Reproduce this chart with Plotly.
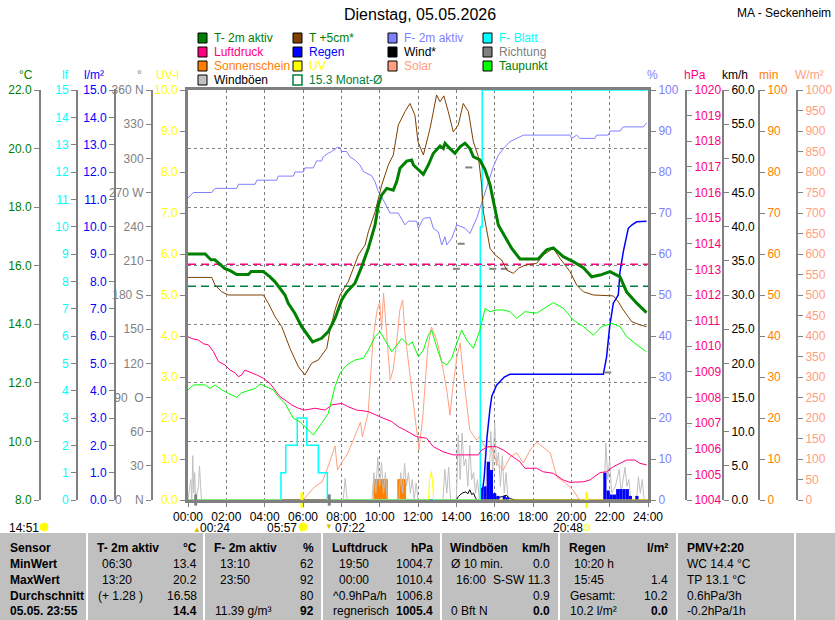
import plotly.graph_objects as go

W, H = 835, 620
FONT = "Arial, Liberation Sans, sans-serif"
GRAY = "#808080"

# colours of the series
C_T2M = "#008000"
C_T5 = "#804000"
C_F2M = "#8080ff"
C_FB = "#00ffff"
C_P = "#ff0080"
C_RAIN = "#0000ff"
C_WIND = "#000000"
C_DIR = "#808080"
C_SUN = "#ff8000"
C_UV = "#ffff00"
C_SOL = "#ffa080"
C_TAU = "#00ff00"
C_GUST = "#c0c0c0"
C_MON = "#008040"

# ---- data (hours of the day -> value) ----
t2m_time = [0, 0.9, 1.05, 1.2, 1.4, 1.67, 1.93, 2.2, 2.54, 3.15, 3.3, 3.93, 4.28, 4.54, 4.8,
            5.06, 5.23, 5.58, 5.93, 6.28, 6.5, 6.97, 7.32, 7.67, 8.02, 8.28, 8.71, 9.06, 9.41,
            9.76, 9.93, 10.1, 10.37, 10.71, 10.89, 11.06, 11.41, 11.67, 11.76, 12.28, 12.54,
            12.8, 13.15, 13.32, 13.41, 13.67, 13.93, 14.19, 14.45, 14.71, 14.89, 15.23, 15.5,
            15.76, 16.02, 16.19, 16.54, 16.89, 17.32, 18.27, 18.71, 19.06, 19.58, 20.1, 20.63,
            21.06, 21.5, 22.02, 22.54, 22.89, 23.41, 23.92]
t2m_val = [16.4, 16.4, 16.3, 16.2, 16.2, 16.06, 15.9, 15.83, 15.7, 15.7, 15.8, 15.8, 15.62,
           15.45, 15.23, 15.0, 14.72, 14.37, 13.92, 13.58, 13.4, 13.52, 13.75, 14.2, 14.83,
           15.1, 15.4, 15.97, 16.6, 17.39, 18.07, 18.41, 18.64, 18.58, 18.87, 19.33, 19.57,
           19.61, 19.44, 19.12, 19.44, 19.84, 20.09, 20.0, 20.18, 20.0, 19.84, 20.06, 20.18,
           20.0, 19.72, 19.61, 19.27, 18.76, 17.96, 17.39, 16.99, 16.59, 16.23, 16.23, 16.54,
           16.61, 16.31, 16.14, 15.93, 15.62, 15.68, 15.8, 15.62, 15.1, 14.72, 14.4]

t5_time = [0, 1.24, 1.41, 1.76, 2.1, 3.93, 4.19, 4.54, 4.89, 5.32, 5.76, 6.1, 6.45, 6.8, 7.24,
           7.41, 7.67, 7.93, 8.36, 8.89, 9.24, 9.41, 9.76, 10.11, 10.45, 10.71, 10.97, 11.32,
           11.58, 11.84, 12.0, 12.28, 12.63, 12.97, 13.15, 13.35, 13.58, 13.84, 14.1, 14.36,
           14.63, 14.89, 15.15, 15.32, 15.41, 15.58, 15.76, 16.02, 16.37, 16.63, 16.97, 17.24,
           17.58, 18.19, 18.54, 19.06, 19.41, 19.93, 20.28, 20.63, 21.15, 22.19, 22.45, 22.71,
           23.15, 23.58, 23.93]
t5_val = [15.6, 15.6, 15.34, 15.11, 15.0, 15.0, 14.72, 14.26, 13.92, 13.18, 12.55, 12.27,
          12.67, 12.78, 13.18, 13.8, 14.49, 15.0, 15.45, 16.37, 16.71, 17.16, 17.84, 18.76,
          19.44, 19.78, 20.8, 21.26, 21.54, 21.14, 20.23, 19.78, 20.69, 21.83, 21.6, 21.8,
          21.26, 20.57, 20.8, 21.54, 21.26, 20.23, 19.72, 18.76, 17.84, 17.28, 16.59, 16.37,
          16.19, 15.85, 15.74, 15.91, 16.02, 16.08, 16.37, 16.59, 16.25, 15.8, 15.34, 15.11,
          15.0, 14.97, 14.77, 14.49, 14.09, 13.98, 13.92]

f2m_time = [0, 0.28, 1.24, 1.41, 2.54, 2.63, 3.5, 3.59, 4.63, 4.71, 5.5, 5.58, 6.02, 6.1,
            6.54, 6.71, 6.97, 7.06, 7.32, 7.5, 7.79, 7.93, 8.02, 8.28, 8.45, 8.71, 8.97, 9.15,
            9.58, 9.76, 9.93, 10.19, 10.54, 10.97, 11.32, 11.5, 11.93, 12.02, 12.28, 12.63,
            12.8, 13.06, 13.24, 13.41, 13.5, 13.76, 14.02, 14.28, 14.45, 14.71, 15.06, 15.32,
            15.58, 15.93, 16.19, 16.54, 16.8, 17.15, 17.5, 19.93, 20.02, 20.28, 20.45, 21.23,
            21.32, 21.93, 22.02, 22.54, 22.71, 23.76, 23.92]
f2m_val = [73.7, 75, 75, 76, 76, 77, 77, 78, 78, 79, 79, 80, 80, 81, 81, 82.7, 82.7, 83.7,
           84.6, 85, 86, 86, 85, 85, 83.7, 82.9, 81.7, 80.1, 79.1, 77.6, 75.2, 73.2, 70, 70,
           67.1, 68, 68, 66.3, 68.7, 68.9, 66.3, 65.4, 62.2, 64.2, 62.2, 63.8, 67.1, 66.7,
           66.3, 65, 68.7, 72.4, 76, 81.3, 84.1, 86.2, 87.4, 88.2, 89, 89, 88.2, 89, 88.2,
           88.2, 89, 89, 90, 90, 91, 91, 92]

fb_time = [0, 4.85, 5.1, 5.7, 6.2, 6.8, 7.27, 15.25, 15.35, 24]
fb_val = [0, 1, 2, 3, 2, 1, 0, 10, 15, 15]

p_time = [0, 0.2, 0.55, 0.8, 1.07, 1.33, 1.59, 1.93, 2.19, 2.45, 2.63, 2.8, 2.97, 3.24, 3.59,
          3.93, 4.28, 4.54, 4.8, 5.06, 5.41, 5.76, 6.1, 6.63, 7.15, 7.5, 8.02, 8.36, 8.8,
          9.41, 9.76, 10.19, 10.63, 10.97, 11.32, 11.6, 11.93, 12.45, 12.8, 13.32, 13.84,
          15.15, 15.32, 15.67, 16.1, 16.45, 16.97, 17.32, 17.58, 18.19, 18.54, 19.06, 19.58,
          19.93, 20.63, 20.97, 21.5, 21.84, 22.19, 22.54, 22.89, 23.32, 23.58, 23.93]
p_val = [1010.37, 1010.3, 1010.24, 1010.1, 1010.05, 1009.79, 1009.4, 1009.27, 1009.07,
         1008.97, 1008.81, 1008.88, 1009.07, 1009.0, 1008.88, 1008.75, 1008.55, 1008.29,
         1008.03, 1007.9, 1007.71, 1007.58, 1007.51, 1007.58, 1007.51, 1007.71, 1007.77,
         1007.64, 1007.51, 1007.45, 1007.32, 1007.19, 1007.06, 1006.86, 1006.73, 1006.6,
         1006.47, 1006.41, 1006.08, 1005.88, 1005.76, 1005.76, 1005.95, 1006.08, 1006.08,
         1005.95, 1005.69, 1005.49, 1005.24, 1005.24, 1005.1, 1005.04, 1004.78, 1004.69,
         1004.71, 1004.78, 1005.07, 1005.1, 1005.3, 1005.43, 1005.56, 1005.56, 1005.43,
         1005.37]

tau_time = [0, 0.28, 0.89, 1.15, 1.41, 1.76, 2.1, 2.54, 2.8, 3.5, 3.76, 4.1, 4.45, 4.71,
            5.06, 5.5, 5.84, 6.28, 6.54, 6.97, 7.32, 7.67, 7.93, 8.28, 8.71, 9.15, 9.41,
            9.76, 10.02, 10.28, 10.63, 10.97, 11.15, 11.5, 11.7, 12.02, 12.28, 12.54, 12.71,
            12.97, 13.24, 13.5, 13.76, 14.02, 14.28, 14.54, 14.89, 15.23, 15.5, 15.76, 16.1,
            16.45, 16.8, 17.15, 17.58, 18.19, 18.71, 19.06, 19.58, 20.1, 20.63, 21.15, 21.58,
            22.11, 22.54, 22.89, 23.32, 23.92]
tau_val = [11.76, 11.93, 11.93, 11.81, 11.93, 11.76, 11.64, 11.51, 11.66, 11.81, 11.96,
           11.87, 11.76, 11.53, 11.3, 10.79, 10.67, 10.39, 10.22, 10.62, 10.96, 11.87, 12.33,
           12.61, 12.78, 12.84, 13.12, 13.58, 13.75, 13.46, 13.06, 13.35, 13.52, 13.29, 13.4,
           12.89, 13.12, 13.63, 13.8, 13.23, 12.72, 12.61, 12.84, 13.35, 13.8, 13.46, 13.18,
           13.8, 14.54, 14.43, 14.49, 14.49, 14.43, 14.2, 14.43, 14.38, 14.6, 14.74, 14.55,
           14.15, 13.92, 13.63, 13.92, 14.03, 13.92, 13.58, 13.35, 13.06]

sol_time = [0, 6.0, 6.6, 7.0, 7.3, 7.67, 7.8, 8.0, 8.35, 8.8, 9.0, 9.1, 9.4, 9.65, 9.85,
            10.0, 10.1, 10.2, 10.4, 10.55, 10.7, 10.9, 11.05, 11.2, 11.3, 11.6, 11.95, 12.05,
            12.25, 12.5, 12.7, 12.98, 13.25, 13.5, 13.67, 13.8, 14.03, 14.2, 14.35, 14.7,
            15.05, 15.2, 15.5, 15.85, 16.1, 16.45, 16.8, 17.15, 17.5, 17.85, 18.2, 18.5, 18.9,
            19.25, 19.7, 20.1, 20.35, 20.5, 24]
sol_val = [0, 0, 32, 44, 80, 132, 73, 90, 115, 170, 190, 154, 212, 390, 459, 483, 415, 505,
           390, 293, 317, 390, 463, 488, 415, 298, 154, 122, 202, 366, 422, 390, 334, 268,
           207, 268, 349, 383, 310, 171, 146, 154, 129, 129, 90, 73, 105, 115, 90, 122, 141,
           129, 115, 56, 41, 24, 5, 0, 0]

rain_sum_time = [0, 15.3, 15.45, 15.6, 15.75, 15.85, 16.1, 16.5, 16.8, 21.67, 21.84, 22.0,
                 22.19, 22.45, 22.54, 22.71, 22.97, 23.15, 23.41, 23.92]
rain_sum_val = [0, 0, 0.8, 2.3, 3.3, 3.8, 4.2, 4.5, 4.6, 4.6, 5.24, 6.34, 7.2, 7.5, 8.35,
                9.08, 9.94, 10.06, 10.18, 10.2]

rain_bar_time = [15.33, 15.5, 15.67, 15.83, 16.0, 16.17, 16.5, 16.67, 21.75, 21.92, 22.08,
                 22.25, 22.42, 22.58, 22.75, 22.92, 23.08, 23.42]
rain_bar_val = [0.45, 0.5, 1.4, 1.1, 0.25, 0.15, 0.15, 0.1, 1.0, 0.35, 0.2, 0.2, 0.4, 0.4,
                0.4, 0.4, 0.15, 0.15]

gust_time = [0, 0.15, 0.2, 0.25, 0.3, 0.35, 0.4, 0.55, 0.6, 0.65, 0.7, 8.1, 8.2, 8.3, 9.6,
             9.7, 9.8, 9.9, 10.0, 10.1, 10.2, 10.3, 10.4, 11.0, 11.1, 11.2, 11.3, 11.4, 11.5,
             11.6, 11.7, 11.8, 11.9, 12.0, 13.3, 13.4, 13.5, 13.6, 13.7, 14.0, 14.1, 14.2,
             14.3, 14.4, 14.5, 14.6, 14.7, 14.8, 14.9, 15.0, 15.1, 15.2, 15.5, 15.6, 15.7,
             15.8, 15.9, 16.0, 16.1, 16.2, 16.3, 16.4, 16.5, 16.6, 16.7, 21.7, 21.8, 21.9,
             22.0, 22.1, 22.3, 22.5, 22.6, 22.8, 22.9, 23.0, 23.1, 23.4, 23.5, 23.6, 23.7,
             23.8, 24]
gust_val = [0, 3, 0, 6.5, 1, 4, 0, 2, 5, 1, 0, 0, 3.2, 0, 0, 4, 1, 6.3, 2, 5.5, 1, 4, 0, 0,
            4, 1, 5.4, 2, 4, 1, 3, 0, 2.5, 0, 0, 4.5, 1, 4.8, 0, 0, 9.5, 3, 9.8, 5, 6, 2, 8,
            3, 4, 1, 3, 0, 0, 5, 2, 10, 4, 11.3, 5, 7, 2, 6.5, 1, 4, 0, 0, 8.3, 3, 6, 1, 2,
            4.5, 1, 4.8, 2, 3, 0, 0, 3.4, 1, 3, 0, 0]

wind_time = [0, 14.0, 14.1, 14.3, 14.5, 14.6, 14.7, 14.8, 14.9, 15.0, 15.1, 15.8, 15.9,
             16.1, 16.4, 16.6, 16.8, 17.1, 24]
wind_val = [0, 0, 0.5, 1.0, 1.2, 0.9, 1.5, 0.8, 1.0, 0.3, 0, 0, 0.7, 0.3, 0.5, 0.7, 0.2, 0, 0]

dir_time = [14.0, 14.25, 14.65, 15.9, 16.5, 21.9]
dir_val = [203, 225, 292, 203, 203, 112]

sun_time = [0, 9.7, 10.4, 10.95, 11.35, 24]
sun_min = [0, 5, 0, 5, 0, 0]

uv_time = [0, 12.55, 12.6, 12.7, 12.76, 12.82, 24]
uv_val = [0, 0, 0.5, 0.7, 0.4, 0, 0]

sunrise_sunset = [5.95, 20.8]
moon_events = [0.4, 7.37]

month_temp = 15.3
month_press = 1013.2

# ---- ticks ----
hour_ticks = list(range(0, 25, 2))
hour_labels = [f"{h:02d}:00" for h in hour_ticks]
temp_ticks = list(range(8, 23, 2))
lf_ticks = list(range(0, 16))
mm_ticks = list(range(0, 16))
dir_ticks = list(range(0, 361, 30))
dir_labels = ["0\u00a0\u00a0\u00a0\u00a0N", "30", "60", "90\u00a0\u00a0O", "120", "150",
              "180 S", "210", "240", "270 W", "300", "330", "360 N"]
uv_ticks = list(range(0, 11))
hum_ticks = list(range(0, 101, 10))
press_ticks = list(range(1004, 1021))
kmh_ticks = list(range(0, 61, 5))
min_ticks = list(range(0, 101, 10))
sol_ticks = list(range(0, 1001, 50))

# ---- table below the chart ----
tbl_rows_y = [548, 564, 580, 596, 611]
tbl_first = ["Sensor", "MinWert", "MaxWert", "Durchschnitt", "05.05. 23:55"]
tbl_cols = [
    # header x, body x, right x, header, unit, left texts, right texts
    (95, 100, 199, "T- 2m aktiv", "°C", ["06:30", "13:20", "(+ 1.28 )", ""],
     ["13.4", "20.2", "16.58", "14.4"]),
    (212, 218, 316, "F- 2m aktiv", "%", ["13:10", "23:50", "", "11.39 g/m³"],
     ["62", "92", "80", "92"]),
    (330, 337, 435, "Luftdruck", "hPa", ["19:50", "00:00", "^0.9hPa/h", "regnerisch"],
     ["1004.7", "1010.4", "1006.8", "1005.4"]),
    (448, 454, 552, "Windböen", "km/h", ["Ø 10 min.", "16:00", "", "0 Bft N"],
     ["0.0", "S-SW 11.3", "0.9", "0.0"]),
    (567, 572, 670, "Regen", "l/m²", ["10:20 h", "15:45", "Gesamt:", "10.2 l/m²"],
     ["", "1.4", "10.2", "0.0"]),
]
tbl_pmv = ["PMV+2:20", "WC 14.4 °C", "TP 13.1 °C", "0.6hPa/3h", "-0.2hPa/1h"]
tbl_seps = [87, 204, 322, 441, 559, 677, 795]

legend_items = [
    ("T- 2m aktiv", C_T2M, C_T2M), ("T +5cm*", C_T5, C_T2M),
    ("F- 2m aktiv", C_F2M, C_F2M), ("F- Blatt", C_FB, C_FB),
    ("Luftdruck", C_P, C_P), ("Regen", C_RAIN, C_RAIN),
    ("Wind*", C_WIND, C_WIND), ("Richtung", C_DIR, C_DIR),
    ("Sonnenschein", C_SUN, C_SUN), ("UV", C_UV, C_UV),
    ("Solar", C_SOL, C_SOL), ("Taupunkt", C_TAU, C_T2M),
    ("Windböen", C_GUST, "#000000"), ("15.3 Monat-Ø", None, C_MON),
]


def px(x):
    return x / W


def py(y):
    return 1 - y / H


def yax(color, rng, ticks, position=None, side="left", labels=None, fmt=None,
        main=False, frame=False):
    ax = dict(range=rng, tickmode="array", tickvals=ticks, ticks="outside", ticklen=5,
              tickwidth=1, tickcolor=GRAY, showline=True, linecolor=GRAY,
              linewidth=3 if frame else 2, showgrid=False, zeroline=False, side=side,
              fixedrange=True, automargin=False,
              tickfont=dict(family=FONT, size=12, color=color))
    if labels is not None:
        ax["ticktext"] = labels
    if fmt:
        ax["tickformat"] = fmt
    if position is None:
        ax["anchor"] = "x"
    else:
        ax["anchor"] = "free"
        ax["position"] = position
    if main:
        ax["domain"] = [py(500), py(90)]
    else:
        ax["overlaying"] = "y"
    return ax


fig = go.Figure()

# sunshine minutes (main y)
fig.add_trace(go.Scatter(x=sun_time, y=sun_min, mode="lines", line_shape="hv",
                         line=dict(color=C_SUN, width=1), fill="tozeroy", fillcolor=C_SUN,
                         yaxis="y"))
# gusts and wind
fig.add_trace(go.Scatter(x=gust_time, y=gust_val, mode="lines",
                         line=dict(color=C_GUST, width=1), yaxis="y2"))
fig.add_trace(go.Scatter(x=wind_time, y=wind_val, mode="lines",
                         line=dict(color=C_WIND, width=1), yaxis="y2"))
# solar
fig.add_trace(go.Scatter(x=sol_time, y=sol_val, mode="lines",
                         line=dict(color=C_SOL, width=1), yaxis="y3"))
# rain
fig.add_trace(go.Bar(x=rain_bar_time, y=rain_bar_val, width=1 / 6,
                     marker=dict(color=C_RAIN, line=dict(width=0)), yaxis="y4"))
fig.add_trace(go.Scatter(x=rain_sum_time, y=rain_sum_val, mode="lines",
                         line=dict(color=C_RAIN, width=1.5), yaxis="y4"))
# leaf wetness
fig.add_trace(go.Scatter(x=fb_time, y=fb_val, mode="lines", line_shape="hv",
                         line=dict(color=C_FB, width=1.5), yaxis="y5", cliponaxis=False))
# pressure
fig.add_trace(go.Scatter(x=[0, 24], y=[month_press, month_press], mode="lines",
                         line=dict(color=C_P, width=1.5, dash="8px,5px"), yaxis="y6"))
fig.add_trace(go.Scatter(x=p_time, y=p_val, mode="lines",
                         line=dict(color=C_P, width=1), yaxis="y6"))
# humidity
fig.add_trace(go.Scatter(x=f2m_time, y=f2m_val, mode="lines",
                         line=dict(color=C_F2M, width=1), yaxis="y7"))
# wind direction
fig.add_trace(go.Scatter(x=dir_time, y=dir_val, mode="markers",
                         marker=dict(symbol="line-ew", size=5, line=dict(color=C_DIR, width=2)),
                         yaxis="y8"))
# UV, sun and moon events
fig.add_trace(go.Scatter(x=uv_time, y=uv_val, mode="lines",
                         line=dict(color=C_UV, width=1), yaxis="y9"))
fig.add_trace(go.Scatter(x=sunrise_sunset, y=[0] * len(sunrise_sunset), mode="markers",
                         marker=dict(symbol="line-ns", size=11, line=dict(color=C_UV, width=3)),
                         yaxis="y9", cliponaxis=False))
fig.add_trace(go.Scatter(x=moon_events, y=[0] * len(moon_events), mode="markers",
                         marker=dict(symbol="line-ns", size=8, line=dict(color=GRAY, width=3)),
                         yaxis="y9", cliponaxis=False))
# temperatures
fig.add_trace(go.Scatter(x=tau_time, y=tau_val, mode="lines",
                         line=dict(color=C_TAU, width=1), yaxis="y10"))
fig.add_trace(go.Scatter(x=[0, 24], y=[month_temp, month_temp], mode="lines",
                         line=dict(color=C_MON, width=1.5, dash="8px,5px"), yaxis="y10"))
fig.add_trace(go.Scatter(x=t5_time, y=t5_val, mode="lines",
                         line=dict(color=C_T5, width=1), yaxis="y10"))
fig.add_trace(go.Scatter(x=t2m_time, y=t2m_val, mode="lines",
                         line=dict(color=C_T2M, width=3), yaxis="y10"))

# ---- annotations ----
ann = []


def text(x, y, s, color="#000000", size=12, anchor="left", bold=False):
    ann.append(dict(x=px(x), y=py(y), xref="paper", yref="paper", text=f"<b>{s}</b>" if bold else s,
                    showarrow=False, xanchor=anchor, yanchor="middle",
                    font=dict(family=FONT, size=size, color=color)))


text(420, 15, "Dienstag, 05.05.2026", size=16, anchor="center")
text(833, 13, "MA - Seckenheim", anchor="right")

for x, s, c in [(26, "°C", C_T2M), (65, "lf", C_FB), (94, "l/m²", C_RAIN), (139, "°", GRAY),
                (167, "UV-I", C_UV), (652, "%", C_F2M), (695, "hPa", C_P),
                (735, "km/h", "#000000"), (768, "min", C_SUN), (809, "W/m²", C_SOL)]:
    text(x, 75, s, color=c, anchor="center")

shapes = []
leg_x = [198, 293, 388, 483]
leg_y = [38, 52, 66, 80]
for i, (name, swatch, tcolor) in enumerate(legend_items):
    lx, ly = leg_x[i % 4], leg_y[i // 4]
    if swatch is None:
        shapes.append(dict(type="rect", xref="paper", yref="paper", x0=px(lx), x1=px(lx + 9),
                           y0=py(ly + 5), y1=py(ly - 5), line=dict(color=C_MON, width=1.5)))
    else:
        shapes.append(dict(type="rect", xref="paper", yref="paper", x0=px(lx), x1=px(lx + 9),
                           y0=py(ly + 5), y1=py(ly - 5), fillcolor=swatch,
                           line=dict(color="#000000", width=1)))
    text(lx + 14, ly, name, color=tcolor)

# sun / moon times below the axis
for x, s in [(24, "14:51"), (215, "00:24"), (282, "05:57"), (350, "07:22"), (568, "20:48")]:
    text(x, 528, s, anchor="center")
for cx in [44, 303]:
    shapes.append(dict(type="circle", xref="paper", yref="paper", x0=px(cx - 4), x1=px(cx + 4),
                       y0=py(531), y1=py(523), fillcolor=C_UV, line=dict(color=C_UV, width=1)))
shapes.append(dict(type="rect", xref="paper", yref="paper", x0=px(584), x1=px(589),
                   y0=py(530), y1=py(525), line=dict(color=C_UV, width=1)))
text(197, 529, "▲", color="#d8c000", size=8, anchor="center")
text(329, 526, "▼", color="#d8c000", size=8, anchor="center")

# table
shapes.append(dict(type="rect", xref="paper", yref="paper", x0=0, x1=1, y0=0, y1=py(533),
                   fillcolor="#c0c0c0", line=dict(width=0)))
for sx in tbl_seps:
    shapes.append(dict(type="line", xref="paper", yref="paper", x0=px(sx), x1=px(sx),
                       y0=0, y1=py(533), line=dict(color="#ffffff", width=2)))
for ry, s in zip(tbl_rows_y, tbl_first):
    text(8, ry, s, bold=True)
for hx, bx, rx, head, unit, lefts, rights in tbl_cols:
    text(hx, tbl_rows_y[0], head, bold=True)
    text(rx, tbl_rows_y[0], unit, anchor="right", bold=True)
    for j, (ls, rs) in enumerate(zip(lefts, rights)):
        ry = tbl_rows_y[j + 1]
        if ls:
            text(bx if ls[0].isdigit() and ":" in ls[:3] else hx + 1, ry, ls)
        if rs:
            text(rx, ry, rs, anchor="right", bold=(j == 3))
for j, s in enumerate(tbl_pmv):
    text(685, tbl_rows_y[j], s, bold=(j == 0))

fig.update_layout(
    template="none",
    width=W, height=H,
    margin=dict(l=0, r=0, t=0, b=0, pad=0, autoexpand=False),
    paper_bgcolor="#ffffff", plot_bgcolor="#ffffff",
    showlegend=False, barmode="overlay",
    font=dict(family=FONT, size=12, color="#000000"),
    xaxis=dict(domain=[px(188), px(648)], range=[0, 24], tickmode="array",
               tickvals=hour_ticks, ticktext=hour_labels, ticks="outside", ticklen=4,
               tickcolor=GRAY, showline=True, mirror=True, linecolor=GRAY, linewidth=3,
               showgrid=True, gridcolor=GRAY, griddash="3px,3px", gridwidth=1,
               zeroline=False, fixedrange=True, automargin=False,
               tickfont=dict(family=FONT, size=12, color="#000000")),
    yaxis=yax(C_SUN, [0, 100], min_ticks, position=px(759), side="right", main=True),
    yaxis2=yax("#000000", [0, 60], kmh_ticks, position=px(723), side="right", fmt=".1f"),
    yaxis3=yax(C_SOL, [0, 1000], sol_ticks, position=px(797), side="right"),
    yaxis4=yax(C_RAIN, [0, 15], mm_ticks, position=px(115), fmt=".1f"),
    yaxis5=yax(C_FB, [0, 15], lf_ticks, position=px(77)),
    yaxis6=yax(C_P, [1004, 1020], press_ticks, position=px(686), side="right"),
    yaxis7=yax(C_F2M, [0, 100], hum_ticks, side="right", frame=True),
    yaxis8=yax(GRAY, [0, 360], dir_ticks, position=px(152), labels=dir_labels),
    yaxis9=yax(C_UV, [0, 10], uv_ticks, fmt=".1f", frame=True),
    yaxis10=yax(C_T2M, [8, 22], temp_ticks, position=px(40), fmt=".1f"),
    annotations=ann,
    shapes=shapes,
)
fig.update_layout(yaxis10=dict(showgrid=True, gridcolor=GRAY, griddash="3px,3px", gridwidth=1))

fig.write_html("out.html", config={"displayModeBar": False},
               post_script="document.body.style.margin='0';"
                           "document.body.style.overflow='hidden';")
